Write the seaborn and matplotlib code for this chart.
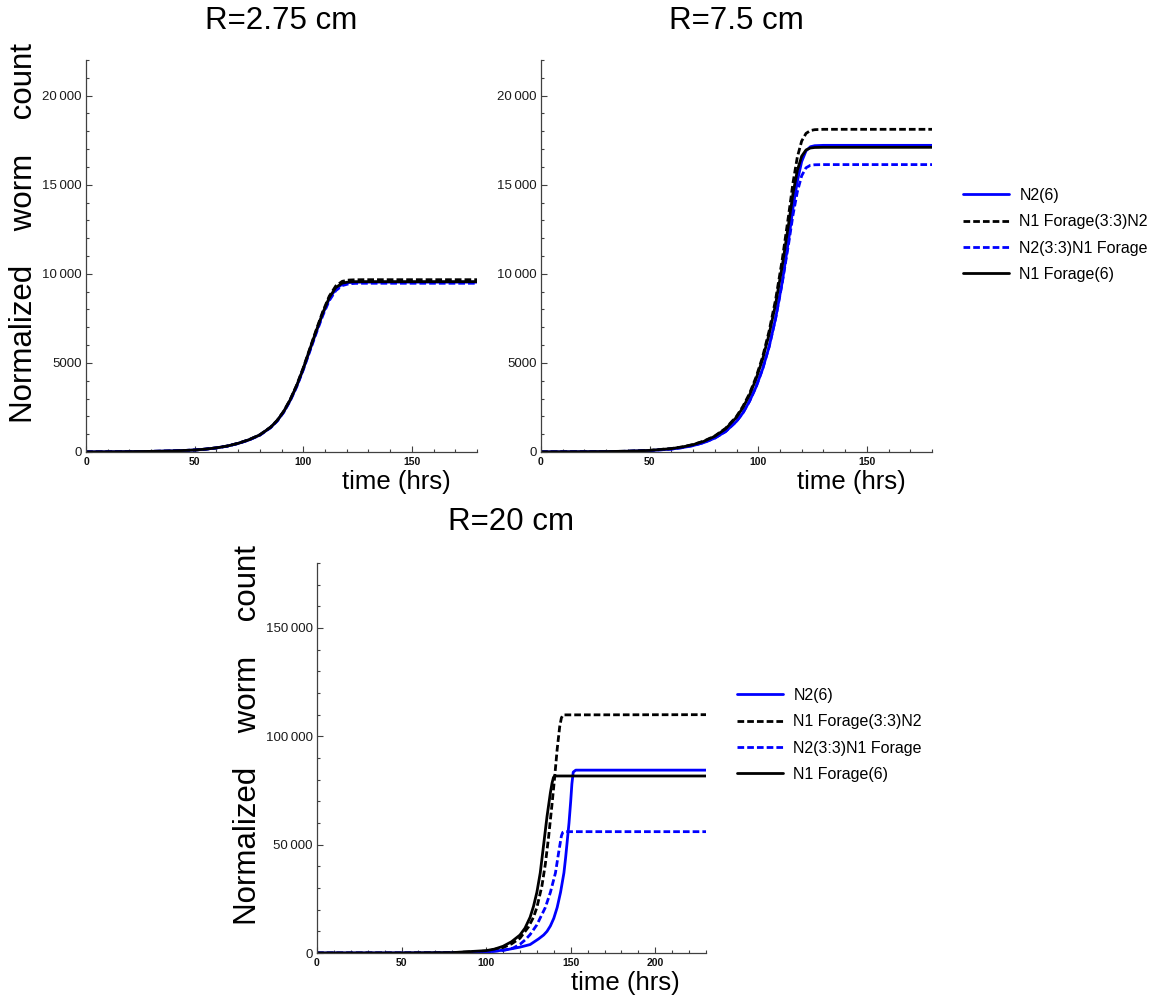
import numpy as np
import pandas as pd
import matplotlib
matplotlib.use("Agg")
import matplotlib.pyplot as plt
from matplotlib.lines import Line2D
from matplotlib.ticker import MultipleLocator, FuncFormatter
import seaborn as sns

sns.set_style("white")
plt.rcParams["font.family"] = ["Liberation Sans", "DejaVu Sans"]
plt.rcParams["text.color"] = "black"

# ---------------- data ----------------
series_names = ["N2(6)", "N1 Forage(3:3)N2", "N2(3:3)N1 Forage", "N1 Forage(6)"]
titles = ["R=2.75 cm", "R=7.5 cm", "R=20 cm"]

# R = 2.75 cm
t_275 = [0, 10, 20, 30, 40, 50, 55, 60, 65, 70, 75, 80, 85, 88, 91, 94, 97, 100, 103, 106, 109, 112, 115, 118, 121, 124, 128, 180]
n2_6_275 = [5, 10, 20, 35, 60, 110, 160, 230, 330, 480, 680, 950, 1380, 1750, 2250, 2900, 3700, 4650, 5700, 6750, 7750, 8600, 9150, 9420, 9510, 9530, 9535, 9535]
n1_33_n2_275 = [5, 10, 20, 35, 60, 110, 162, 234, 336, 488, 690, 965, 1400, 1775, 2285, 2945, 3760, 4720, 5790, 6860, 7880, 8750, 9320, 9580, 9650, 9665, 9670, 9670]
n2_33_n1_275 = [5, 10, 20, 35, 60, 110, 158, 228, 327, 475, 672, 940, 1365, 1730, 2225, 2870, 3660, 4600, 5640, 6670, 7660, 8500, 9060, 9340, 9440, 9465, 9470, 9470]
n1_6_275 = [5, 10, 20, 35, 60, 110, 161, 232, 333, 484, 686, 958, 1390, 1765, 2270, 2925, 3730, 4680, 5750, 6800, 7810, 8670, 9230, 9480, 9545, 9558, 9560, 9560]

# R = 7.5 cm
t_75 = [0, 10, 20, 30, 40, 50, 60, 65, 70, 75, 80, 85, 90, 93, 96, 99, 102, 105, 108, 111, 114, 116, 118, 120, 122, 124, 126, 130, 180]
n2_6_75 = [5, 10, 15, 22, 40, 80, 165, 245, 360, 530, 780, 1150, 1720, 2200, 2850, 3650, 4650, 5900, 7500, 9500, 11900, 13700, 15200, 16300, 16900, 17130, 17190, 17210, 17210]
n1_33_n2_75 = [5, 10, 15, 25, 45, 92, 195, 285, 420, 615, 900, 1330, 2000, 2570, 3280, 4200, 5330, 6780, 8550, 10750, 13300, 15100, 16550, 17450, 17880, 18040, 18090, 18110, 18110]
n2_33_n1_75 = [5, 10, 15, 22, 40, 80, 165, 245, 360, 530, 780, 1150, 1720, 2200, 2850, 3650, 4650, 5900, 7500, 9450, 11700, 13300, 14600, 15500, 15950, 16090, 16120, 16130, 16130]
n1_6_75 = [5, 10, 15, 25, 45, 90, 190, 280, 410, 600, 880, 1300, 1950, 2500, 3200, 4100, 5200, 6600, 8300, 10400, 12800, 14500, 15800, 16600, 16950, 17060, 17090, 17100, 17100]

# R = 20 cm
t_20_n2_6 = [0, 50, 80, 100, 112, 120, 126, 131, 134, 136, 138, 140, 142, 144, 146, 147, 148, 149, 150, 150.7, 151.5, 153, 230]
n2_6_20 = [0, 20, 120, 400, 1500, 2700, 3900, 6500, 8300, 10000, 12500, 16000, 21000, 28000, 37000, 44000, 52000, 60000, 70000, 78000, 83500, 84400, 84400]
t_20_n1_33_n2 = [0, 50, 80, 100, 110, 115, 120, 125, 128, 130, 133, 135, 137, 139, 140.5, 142, 143.5, 144.5, 145.5, 230]
n1_33_n2_20 = [0, 20, 150, 900, 2500, 4200, 6800, 12000, 16500, 21000, 31000, 41000, 54000, 69000, 81000, 94000, 104500, 108500, 109900, 110000]
t_20_n2_33_n1 = [0, 50, 80, 100, 110, 116, 120, 123, 126, 130, 135, 138, 141, 143, 144.5, 145.3, 146, 230]
n2_33_n1_20 = [0, 15, 100, 500, 1200, 2300, 4000, 6000, 8500, 13000, 21000, 28000, 37000, 47000, 54000, 55700, 56000, 56000]
t_20_n1_6 = [0, 50, 80, 100, 105, 110, 115, 120, 123, 126, 128, 130, 132, 134, 136, 138, 139, 139.8, 140.5, 230]
n1_6_20 = [0, 25, 180, 1100, 1800, 3100, 5200, 8300, 11500, 16500, 21500, 28000, 37000, 50000, 63000, 74000, 78500, 81000, 81700, 81700]

x_limits = [180, 180, 230]
y_limits = [22000, 22000, 180000]
y_major = [5000, 5000, 50000]
y_minor = [1000, 1000, 10000]


def long_table(pairs):
    frames = []
    for name, (t, v) in zip(series_names, pairs):
        frames.append(pd.DataFrame({"t": t, "count": v, "series": name}))
    return pd.concat(frames, ignore_index=True)


panels = [
    long_table([(t_275, n2_6_275), (t_275, n1_33_n2_275), (t_275, n2_33_n1_275), (t_275, n1_6_275)]),
    long_table([(t_75, n2_6_75), (t_75, n1_33_n2_75), (t_75, n2_33_n1_75), (t_75, n1_6_75)]),
    long_table([(t_20_n2_6, n2_6_20), (t_20_n1_33_n2, n1_33_n2_20),
                (t_20_n2_33_n1, n2_33_n1_20), (t_20_n1_6, n1_6_20)]),
]

palette = {"N2(6)": "#0000ff", "N1 Forage(3:3)N2": "#000000",
           "N2(3:3)N1 Forage": "#0000ff", "N1 Forage(6)": "#000000"}
dash_map = {"N2(6)": "", "N1 Forage(3:3)N2": (2.4, 1.1),
            "N2(3:3)N1 Forage": (2.4, 1.1), "N1 Forage(6)": ""}
LW = 2.0

# ---------------- layout ----------------
W, H = 1156, 1000
fig = plt.figure(figsize=(W / 100, H / 100), dpi=100)


def px_axes(l, t, r, b):
    return fig.add_axes([l / W, 1 - b / H, (r - l) / W, (b - t) / H])


boxes = [(86, 60, 477, 452), (541, 60, 932, 452), (317, 563, 706, 953)]


def yfmt(v, pos):
    s = str(int(round(v)))
    if len(s) > 4:
        s = s[:-3] + "\u2009" + s[-3:]
    return s


for i, (box, df) in enumerate(zip(boxes, panels)):
    ax = px_axes(*box)
    sns.lineplot(data=df, x="t", y="count", hue="series", style="series",
                 hue_order=series_names, style_order=series_names,
                 palette=palette, dashes=dash_map, linewidth=LW,
                 estimator=None, sort=False, legend=False, ax=ax)
    ax.set_xlim(0, x_limits[i])
    ax.set_ylim(0, y_limits[i])
    ax.set_xlabel("")
    ax.set_ylabel("")
    for s in ["top", "right"]:
        ax.spines[s].set_visible(False)
    for s in ["left", "bottom"]:
        ax.spines[s].set_color("#404040")
        ax.spines[s].set_linewidth(0.9)
    ax.xaxis.set_major_locator(MultipleLocator(50))
    ax.xaxis.set_minor_locator(MultipleLocator(10))
    ax.yaxis.set_major_locator(MultipleLocator(y_major[i]))
    ax.yaxis.set_minor_locator(MultipleLocator(y_minor[i]))
    ax.yaxis.set_major_formatter(FuncFormatter(yfmt))
    ax.tick_params(which="both", direction="in", left=True, bottom=True,
                   top=False, right=False, color="#404040", width=0.8)
    ax.tick_params(which="major", length=4.5)
    ax.tick_params(which="minor", length=2.5)
    ax.tick_params(axis="y", which="major", labelsize=9.5, pad=3, labelcolor="#1a1a1a")
    ax.tick_params(axis="x", which="major", labelsize=7.5, pad=3.5, labelcolor="#111111")
    for lab in ax.get_xticklabels():
        lab.set_fontweight("bold")
    ax.set_facecolor("none")

    l, t, r, b = box
    fig.text(((l + r) / 2) / W, 1 - 21 / H if i < 2 else 1 - 522 / H, titles[i],
             ha="center", va="center", fontsize=22.5, color="black")
    fig.text((r - 26) / W, 1 - (b + 30) / H, "time (hrs)", ha="right", va="center",
             fontsize=18.5, color="black")

# y labels
ylab = "Normalized    worm    count"
fig.text(24 / W, 1 - 233 / H, ylab, rotation=90, ha="center", va="center",
         fontsize=22.5, color="black")
fig.text(248 / W, 1 - 735 / H, ylab, rotation=90, ha="center", va="center",
         fontsize=22.5, color="black")

# legends
handles = [Line2D([0], [0], color=palette[n], lw=LW,
                  linestyle="-" if dash_map[n] == "" else (0, dash_map[n]))
           for n in series_names]
for (lx, ly) in [(963, 188), (737, 688)]:
    leg = fig.legend(handles, series_names, loc="upper left",
                     bbox_to_anchor=(lx / W, 1 - ly / H), bbox_transform=fig.transFigure,
                     frameon=False, fontsize=11.5, handlelength=2.9, handletextpad=0.63,
                     labelspacing=0.71, borderpad=0, borderaxespad=0)
    for txt in leg.get_texts():
        txt.set_color("black")

fig.savefig("out.png", dpi=100)
